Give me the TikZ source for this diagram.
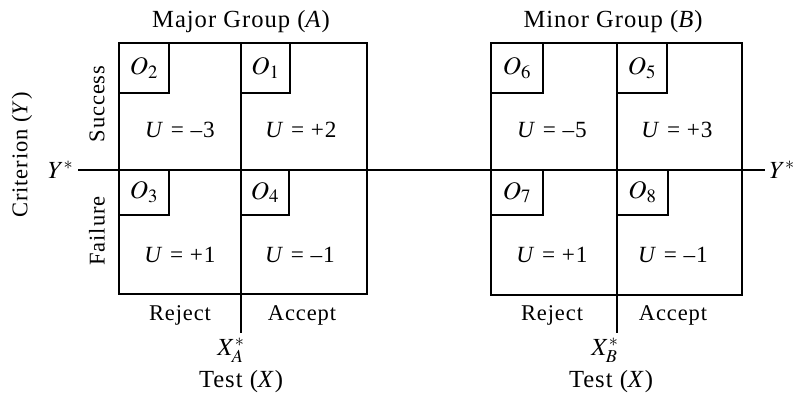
\documentclass[tikz,border=0pt]{standalone}
\usepackage{mathptmx}
\usepackage{fontspec}
\setmainfont{Liberation Serif}[LetterSpace=4]
\tikzset{
  frame/.style={line width=2pt},
  obox/.style={line width=1.5pt},
  lbl/.style={inner sep=0pt},
  title/.style={lbl, font=\fontsize{17.5}{20}\selectfont},
  olbl/.style={font=\fontsize{18}{20}\selectfont},
  ulbl/.style={lbl, font=\fontsize{16.5}{19}\selectfont},
}
\begin{document}
\begin{tikzpicture}[x=0.025cm, y=0.025cm, font=\fontsize{16}{19}\selectfont]
	\useasboundingbox (0,0) rectangle (802,396);
	% Major group (A)
	\draw[frame] (119,102) rectangle (367,353);
	\draw[frame] (241,353) -- (241,63) coordinate (xa);
	\draw[obox] (119,353) rectangle (169,303) node[midway, olbl] (o2) {$O_2$};
	\draw[obox] (241,353) rectangle (290,303) node[midway, olbl] (o1) {$O_1$};
	\draw[obox] (119,226) rectangle (169,181) node[midway, olbl] (o3) {$O_3$};
	\draw[obox] (241,226) rectangle (289,181) node[midway, olbl] (o4) {$O_4$};
	\node[ulbl] (ua1) at (180,266) {\textit{U} = –3};
	\node[ulbl] (ua2) at (301,266) {\textit{U} = +2};
	\node[ulbl] (ua3) at (180,141) {\textit{U} = +1};
	\node[ulbl] (ua4) at (300,141) {\textit{U} = –1};
	\node[title] (titlea) at (241,374) {Major Group (\textit{A})};
	\node[lbl] (rejecta) at (180,81) {Reject};
	\node[lbl] (accepta) at (302,81) {Accept};
	\node[title] (xstara) at (231,46) {$X^*_A$};
	\node[title] (testa) at (241,14) {Test (\textit{X})};
	% Minor group (B)
	\draw[frame] (491,101) rectangle (742,353);
	\draw[frame] (617,353) -- (617,63) coordinate (xb);
	\draw[obox] (491,353) rectangle (543,303) node[midway, olbl] (o6) {$O_6$};
	\draw[obox] (617,353) rectangle (667,303) node[midway, olbl] (o5) {$O_5$};
	\draw[obox] (491,226) rectangle (543,181) node[midway, olbl] (o7) {$O_7$};
	\draw[obox] (617,226) rectangle (668,181) node[midway, olbl] (o8) {$O_8$};
	\node[ulbl] (ub1) at (552,266) {\textit{U} = –5};
	\node[ulbl] (ub2) at (677,266) {\textit{U} = +3};
	\node[ulbl] (ub3) at (552,141) {\textit{U} = +1};
	\node[ulbl] (ub4) at (673,141) {\textit{U} = –1};
	\node[title] (titleb) at (613,374) {Minor Group (\textit{B})};
	\node[lbl] (rejectb) at (552,81) {Reject};
	\node[lbl] (acceptb) at (673,81) {Accept};
	\node[title] (xstarb) at (605,46) {$X^*_B$};
	\node[title] (testb) at (611,14) {Test (\textit{X})};
	% criterion axis
	\coordinate (ysl) at (78,226);
	\coordinate (ysr) at (765,226);
	\draw[frame] (ysl) -- (ysr);
	\node[left, title, inner sep=3pt] (ystarl) at (ysl) {$Y^*$};
	\node[right, title, inner sep=3pt] (ystarr) at (ysr) {$Y^*$};
	\node[lbl, rotate=90] (success) at (97,292) {Success};
	\node[lbl, rotate=90] (failure) at (97,165) {Failure};
	\node[lbl, rotate=90] (crit) at (22,241) {Criterion (\textit{Y})};
\end{tikzpicture}
\end{document}
